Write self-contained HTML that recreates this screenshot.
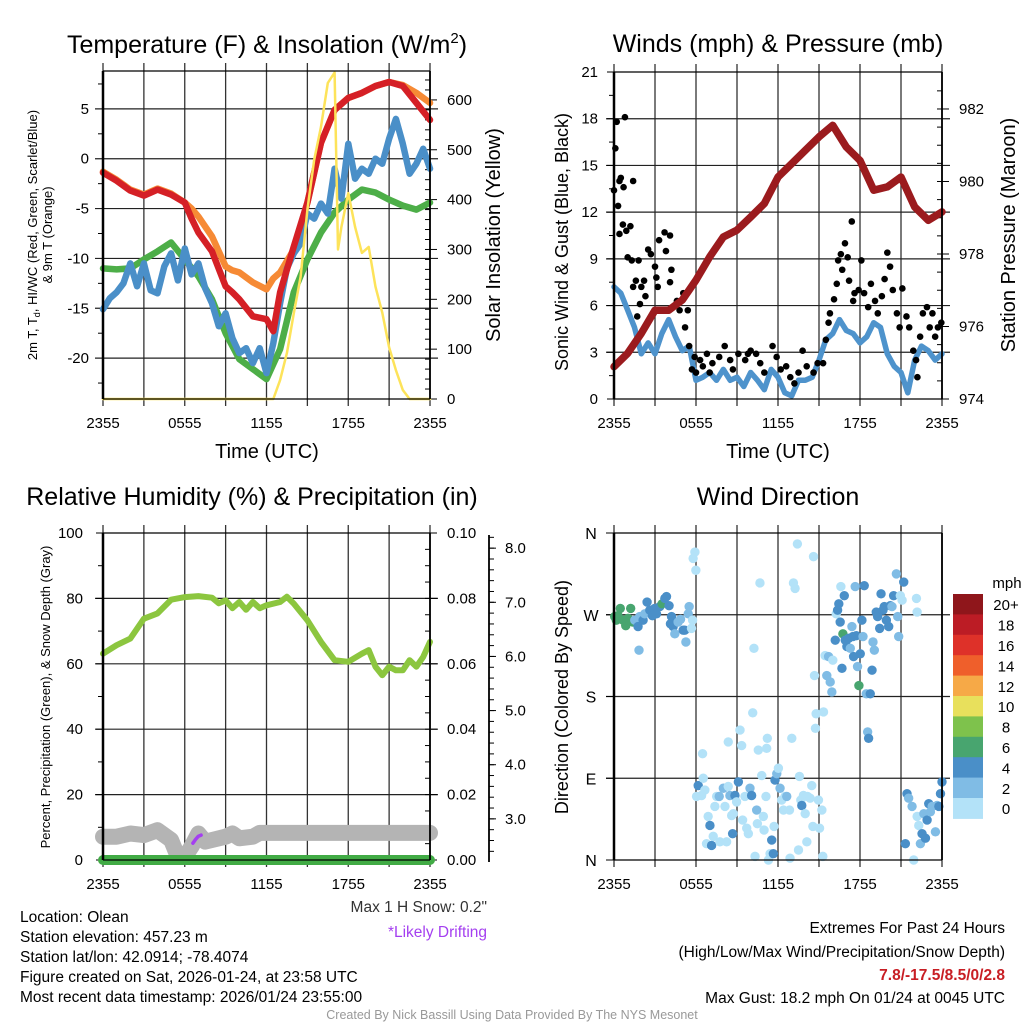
<!DOCTYPE html>
<html><head><meta charset="utf-8"><style>
html,body{margin:0;padding:0;background:#fff;}
svg{display:block;font-family:"Liberation Sans",Arial,sans-serif;}
</style></head><body>
<svg id="fig" width="1024" height="1024" viewBox="0 0 1024 1024" xmlns="http://www.w3.org/2000/svg"></svg>
<script>
// ---------- Panel 1 data: temperature (F) & insolation ----------
const tempHours=[0,1,2,3,4,5,6,6.5,7,8,9,9.5,10,11,12,12.5,13,14,15,16,17,18,19,20,21,22,23,24];
const temp2m=[-1.4,-2.2,-3.2,-3.7,-3.1,-3.6,-4.4,-6.0,-7.4,-9.3,-12.8,-13.4,-14.1,-15.8,-16.1,-17.3,-13.4,-8.8,-4.4,1.6,4.9,6.1,6.6,7.3,7.7,7.3,5.6,3.9];
const temp9m=[-1.3,-2.1,-3.1,-3.6,-3.0,-3.5,-4.4,-5.0,-5.8,-7.8,-10.8,-11.2,-11.4,-12.4,-13.1,-12.0,-11.4,-9.1,-4.4,1.6,4.9,6.1,6.6,7.3,7.7,7.4,6.6,5.6];
const dewHours=[0,1,2,3,4,5,6,7,8,9,10,11,12,13,14,15,16,17,18,19,20,21,22,23,24];
const dewPoint=[-11.0,-11.1,-11.0,-10.1,-9.3,-8.4,-10.1,-11.8,-14.1,-17.5,-20.1,-21.1,-22.1,-19.1,-13.4,-10.1,-7.4,-5.4,-4.1,-3.1,-3.4,-4.1,-4.7,-5.1,-4.4];
const wcHours=[0,0.5,1,1.5,2,2.5,3,3.5,4,4.5,5,5.5,6,6.5,7,7.5,8,8.5,9,9.5,10,10.5,11,11.5,12,12.5,13,13.5,14,14.5,15,15.5,16,16.5,17,17.5,18,18.5,19,19.5,20,20.5,21,21.5,22,22.5,23,23.5,24];
const windChill=[-15.1,-14.0,-13.4,-12.5,-10.5,-12.8,-10.5,-13.2,-13.5,-10.8,-9.5,-12.2,-9.0,-11.6,-10.5,-13.0,-14.5,-16.8,-15.5,-18.0,-19.5,-19.0,-20.5,-19.0,-21.5,-18.5,-14.5,-11.0,-9.5,-8.5,-5.5,-6.0,-4.5,-5.5,-1.0,-4.0,1.5,-2.0,-1.0,-1.5,0.0,-0.5,2.0,4.0,1.5,-1.5,-0.5,1.0,-1.0];
const solHours=[0,12.5,13,13.5,14,14.5,15,15.5,16,16.5,17,17.25,17.5,18,18.5,19,19.5,20,20.5,21,21.5,22,22.5,24];
const solar=[0,0,38,92,172,245,380,480,546,634,655,300,345,413,345,293,305,225,173,104,58,18,0,0];
const tempTicks=[-20,-15,-10,-5,0,5];
const solTicks=[0,100,200,300,400,500,600];
// ---------- Panel 2 data: winds & pressure ----------
const presHours=[0,1,2,3,4,5,6,7,8,9,10,11,12,13,14,15,16,17,18,19,20,21,22,23,24];
const pressure=[974.89,975.26,975.81,976.45,976.45,976.73,977.28,977.92,978.47,978.66,979.02,979.39,980.12,980.49,980.86,981.23,981.55,980.95,980.58,979.76,979.85,980.12,979.30,978.93,979.16];
const windHours=wcHours;
const windSpeed=[7.2,6.8,5.7,4.6,2.9,3.6,2.9,4.2,5.1,4.0,3.1,3.4,1.2,1.4,1.7,1.2,1.9,1.2,1.4,0.8,1.7,1.2,0.6,1.9,1.4,0.4,0.2,1.2,1.2,1.4,2.5,3.8,4.2,5.1,4.4,4.2,3.6,4.0,4.9,4.6,2.9,2.1,1.7,0.4,2.5,3.4,3.1,2.5,2.9];
const gustHours=[0,0.1,0.2,0.3,0.4,0.5,0.7,0.8,0.4,0.65,0.9,1.2,1.4,1.0,1.3,1.8,1.4,1.6,2.0,1.9,2.2,2.3,1.7,2.5,2.7,3.0,3.1,3.2,3.3,3.7,3.8,4.1,4.2,4.1,2.6,4.6,4.8,5.07,5.2,5.4,5.5,5.7,5.9,6.0,6.3,6.5,6.8,7.0,7.2,7.7,8.1,8.5,8.7,9.1,9.6,9.8,10.0,10.4,10.7,11.0,11.6,11.9,12.2,12.6,12.9,13.2,13.5,13.8,14.1,14.6,14.9,15.3,15.5,15.7,15.8,16.1,16.3,16.4,16.6,16.7,16.9,17.1,17.2,17.4,17.5,17.6,17.9,18.1,18.3,18.6,18.8,19.1,19.3,19.6,19.8,20.0,20.2,20.4,20.7,20.9,21.1,21.4,21.6,21.9,22.1,22.2,22.4,22.6,22.9,23.1,23.3,23.5,23.7,23.95];
const gustSpeed=[13.4,16.1,17.8,12.4,14.0,14.2,13.6,18.1,10.6,11.2,10.8,11.1,14.0,9.1,8.9,8.9,7.2,7.6,7.2,6.1,7.6,6.6,5.3,9.6,9.3,8.5,7.8,7.2,10.2,10.7,9.5,10.5,8.3,7.5,5.1,6.3,5.7,6.8,4.6,5.7,3.4,1.9,2.7,1.7,2.5,2.1,2.9,1.7,2.3,2.7,3.4,2.5,1.9,2.9,2.5,2.9,3.1,2.9,2.3,1.7,3.4,2.7,1.9,2.1,1.4,1.0,1.7,3.1,2.1,1.7,2.3,2.3,3.8,4.9,5.5,6.4,7.4,8.9,9.3,8.3,10.0,9.1,7.6,11.4,6.3,6.8,7.0,8.9,6.8,5.9,7.4,6.3,5.5,6.6,7.7,9.4,8.5,7.0,5.5,4.6,7.1,5.3,4.6,3.1,2.5,1.4,4.0,5.5,5.9,4.6,5.5,4.0,4.6,4.9];
const windTicks=[0,3,6,9,12,15,18,21];
const presTicks=[974,976,978,980,982];
// ---------- Panel 3 data: RH, precip, snow ----------
const rhHours=[0,1,2,3,4,5,6,7,8,8.5,9,9.5,10,10.5,11,11.5,12,13,13.5,14,15,16,17,18,19,19.5,20,20.5,21,21.5,22,22.5,23,23.5,24];
const rh=[63.1,65.7,67.7,73.8,75.4,79.6,80.4,80.7,80.2,78.5,79.4,77.0,78.9,76.5,78.9,77.0,77.9,78.9,80.5,78.4,73.3,66.7,61.1,60.6,63.1,64.2,59.1,56.5,59.1,58.0,58.0,61.1,59.1,62.1,66.7];
const precipHours=[0,24];
const precip=[0,0];
const snowHours=[0,1,2,3,4,5,5.5,6,6.5,7,7.5,8,9,9.5,10,11,11.5,12,24];
const snowDepth=[2.67,2.67,2.73,2.70,2.79,2.61,2.30,2.30,2.49,2.73,2.58,2.61,2.67,2.73,2.64,2.67,2.74,2.74,2.74];
const driftHours=[6.6,6.8,7.0,7.2];
const driftDepth=[2.55,2.62,2.68,2.70];
const rhTicks=[0,20,40,60,80,100];
const precipTicks=["0.00","0.02","0.04","0.06","0.08","0.10"];
const snowTicks=["3.0","4.0","5.0","6.0","7.0","8.0"];
// ---------- Panel 4 data: wind direction ----------
const dirHours=[0.05,0.17,0.29,0.46,0.66,0.86,1.03,1.22,1.39,1.52,1.76,1.88,2.13,2.25,2.42,2.62,2.81,2.98,3.11,3.35,3.52,3.72,3.84,4.03,4.21,4.13,4.33,4.45,4.69,4.87,5.06,5.18,5.26,5.43,5.50,5.67,5.75,1.83,5.79,5.92,5.99,
6.16,6.41,6.04,6.53,6.48,6.65,6.77,6.89,7.02,7.14,7.26,7.38,7.51,7.70,7.75,8.00,8.12,8.24,8.36,8.36,8.48,8.61,8.68,8.73,8.85,8.97,9.10,9.22,9.34,9.41,9.58,9.71,9.83,9.95,10.07,10.15,10.24,10.32,10.44,10.49,10.56,10.68,10.81,10.93,10.98,11.12,11.17,11.22,11.30,11.42,11.54,11.66,11.71,11.78,11.91,12.03,12.15,12.27,12.40,12.52,12.64,12.84,12.88,13.01,13.13,13.25,13.42,13.50,13.57,13.67,13.74,13.86,13.99,14.11,14.16,14.35,14.47,14.55,14.60,14.67,14.74,14.79,14.96,15.04,15.21,15.28,15.33,
15.45,15.57,15.70,15.82,15.94,16.01,16.19,16.26,16.36,16.45,16.55,16.60,16.68,16.75,16.85,16.92,17.04,17.16,17.29,17.41,17.48,17.53,17.65,17.73,17.82,17.92,18.02,18.14,18.22,18.31,18.46,18.56,18.63,18.75,18.88,18.95,19.05,19.19,19.29,19.44,19.54,19.68,19.78,19.93,20.10,20.22,20.34,20.46,20.66,20.76,20.83,20.95,21.08,21.20,22.13,22.18,
21.32,21.44,21.56,21.81,21.93,22.18,22.30,22.42,22.54,22.67,22.79,22.91,23.03,23.15,23.28,23.52,23.64,23.77,23.89,24.0];
const dirDegrees=[268,264,269,277,264,258,266,277,262,264,257,268,264,271,284,275,269,277,271,279,282,288,290,280,268,260,257,249,262,265,253,253,240,271,279,255,264,231,332,339,319,
82,71,70,90,117,77,18,48,38,16,26,59,70,70,20,79,59,20,130,81,71,49,29,51,71,64,86,143,126,44,70,35,29,79,71,162,233,4,55,40,121,305,93,48,33,70,123,134,0,7,22,7,37,88,95,101,79,66,55,70,70,55,2,134,305,299,348,11,92,66,60,71,51,20,70,68,82,37,334,203,145,161,66,35,55,4,163,
225,203,224,196,185,220,242,271,275,282,262,301,211,249,291,242,235,244,233,257,246,224,301,247,213,192,227,264,246,302,183,141,134,183,209,240,231,273,268,255,293,275,279,264,257,280,279,291,315,268,246,291,286,306,288,273,
18,73,68,59,0,48,38,18,29,51,24,44,62,53,59,31,60,59,73,86];
const dirSpeeds=[7,7,7,7,7,7,7,7,7,3,5,3,5,3,5,5,5,5,5,5,7,5,5,5,5,5,5,3,3,3,5,5,3,3,3,1,1,3,1,1,1,
5,1,1,1,1,1,1,1,5,5,1,1,1,3,1,3,1,1,1,1,3,1,5,1,5,1,5,1,1,1,1,1,1,3,5,1,1,1,3,1,1,1,1,1,1,1,1,1,1,1,5,5,1,5,3,1,3,1,1,1,3,1,1,1,1,1,1,1,1,1,5,1,1,1,1,1,1,1,1,1,1,1,1,1,1,1,1,
1,3,3,3,3,1,5,1,5,5,5,1,5,7,5,5,5,5,3,3,5,5,3,5,3,7,5,5,3,5,3,3,5,5,5,3,3,5,5,5,5,5,5,5,5,5,3,5,3,3,3,1,1,5,1,1,
5,5,3,3,1,1,1,3,5,3,5,5,5,3,3,3,3,5,5,5];
const speedBins=["0","2","4","6","8","10","12","14","16","18","20+"];
const binColors=["#b3e2f8","#80bce5","#4a8fc8","#48a56f","#7ec24c","#e8e05c","#f6a947","#ef5f2b","#de3129","#bc1c25","#8f161b"];
const dirTicks=["N","E","S","W","N"];
const hourTicks=[0,6,12,18,24];
const hourLabels=["2355","0555","1155","1755","2355"];

const NS="http://www.w3.org/2000/svg";
const svg=document.getElementById('fig');
function el(tag,attrs,parent,name,inter){
  const e=document.createElementNS(NS,tag);
  for(const k in attrs)e.setAttribute(k,attrs[k]);
  
  
  (parent||svg).appendChild(e);return e;
}
function txt(x,y,s,size,name,opts){
  opts=opts||{};
  const t=el('text',{x:x,y:y,'font-size':size,fill:opts.fill||'#000','text-anchor':opts.anchor||'middle','font-weight':opts.weight||'normal'},opts.parent,name,false);
  if(opts.rot)t.setAttribute('transform','rotate(-90 '+x+' '+y+')');
  t.textContent=s;return t;
}
function lin(d0,d1,r0,r1){return v=>r0+(v-d0)/(d1-d0)*(r1-r0);}
function pathFrom(xs,ys,fx,fy){return xs.map((h,i)=>(i?'L':'M')+fx(h).toFixed(1)+' '+fy(ys[i]).toFixed(1)).join(' ');}

function frame(P,name){
  const g=el('g',{},svg,name,false);
  const X=lin(0,24,P.x0,P.x1);
  for(let h=0;h<=24;h+=3){
    el('line',{x1:X(h),x2:X(h),y1:P.y0-8,y2:P.y1+7,stroke:'#333','stroke-width':1.3},g,'x-grid-line',false);
  }
  hourTicks.forEach((h,i)=>{txt(X(h),P.y1+29,hourLabels[i],15,'x-tick-label',{parent:g});});
  return {g:g,X:X};
}
function hgrid(P,g,yv,name){el('line',{x1:P.x0-8,x2:P.x1+8,y1:yv,y2:yv,stroke:'#222','stroke-width':1.2},g,name,false);}
function border(P,g){
  el('line',{x1:P.x0,x2:P.x0,y1:P.y0,y2:P.y1,stroke:'#000','stroke-width':2.5},g,'left-axis-line',false);
  el('line',{x1:P.x1,x2:P.x1,y1:P.y0,y2:P.y1,stroke:'#000','stroke-width':1.8},g,'right-axis-line',false);
  el('line',{x1:P.x0,x2:P.x1,y1:P.y0,y2:P.y0,stroke:'#000','stroke-width':1.3},g,'top-axis-line',false);
  el('line',{x1:P.x0,x2:P.x1,y1:P.y1,y2:P.y1,stroke:'#000','stroke-width':1.3},g,'bottom-axis-line',false);
}

// ===== Panel 1 =====
(function(){
  const P={x0:103,x1:430,y0:71,y1:399};
  const f=frame(P,'temperature-panel');const g=f.g,X=f.X;
  const Y=lin(-24.1,8.8,P.y1,P.y0), Ys=lin(0,658,P.y1,P.y0);
  tempTicks.forEach(v=>{hgrid(P,g,Y(v),'y-grid-line');txt(P.x0-14,Y(v)+5,String(v),15,'y-tick-label',{parent:g,anchor:'end'});});
  for(let v=-22.5;v<8.8;v+=5){el('line',{x1:P.x0-5,x2:P.x0,y1:Y(v),y2:Y(v),stroke:'#000'},g,'y-minor-tick',false);}
  for(let v=20;v<658;v+=20){el('line',{x1:P.x1-5,x2:P.x1,y1:Ys(v),y2:Ys(v),stroke:'#000'},g,'y2-minor-tick',false);}
  solTicks.forEach(v=>{el('line',{x1:P.x1,x2:P.x1+7,y1:Ys(v),y2:Ys(v),stroke:'#000'},g,'y2-tick',false);txt(P.x1+17,Ys(v)+5,String(v),15,'y2-tick-label',{parent:g,anchor:'start'});});
  const lw={fill:'none','stroke-linejoin':'round','stroke-linecap':'round'};
  el('path',Object.assign({d:pathFrom(tempHours,temp9m,X,Y),stroke:'#f68a35','stroke-width':6.5},lw),g,'9m-temperature-line',false);
  el('path',Object.assign({d:pathFrom(dewHours,dewPoint,X,Y),stroke:'#4dae48','stroke-width':6.5},lw),g,'dew-point-line',false);
  el('path',Object.assign({d:pathFrom(wcHours,windChill,X,Y),stroke:'#4a8fc8','stroke-width':6.5},lw),g,'wind-chill-line',false);
  el('path',Object.assign({d:pathFrom(tempHours,temp2m,X,Y),stroke:'#d52026','stroke-width':6.5},lw),g,'2m-temperature-line',false);
  el('path',Object.assign({d:pathFrom(solHours,solar,X,Ys),stroke:'#fde35a','stroke-width':2.5},lw),g,'solar-insolation-line',false);
  border(P,g);
  const t=txt(267,53,'Temperature (F) & Insolation (W/m',25,'chart-title',{parent:g});
  const sup=document.createElementNS(NS,'tspan');sup.setAttribute('dy','-10');sup.setAttribute('font-size','15');sup.textContent='2';t.appendChild(sup);
  const cl=document.createElementNS(NS,'tspan');cl.setAttribute('dy','10');cl.textContent=')';t.appendChild(cl);
  txt(267,458,'Time (UTC)',20,'x-axis-title',{parent:g});
  const yt=txt(37,235,'2m T, T',13,'y-axis-title',{parent:g,rot:true});
  const sb=document.createElementNS(NS,'tspan');sb.setAttribute('font-size','9');sb.setAttribute('dy','3');sb.textContent='d';yt.appendChild(sb);
  const rest=document.createElementNS(NS,'tspan');rest.setAttribute('dy','-3');rest.textContent=', HI/WC (Red, Green, Scarlet/Blue)';yt.appendChild(rest);
  txt(52,235,'& 9m T (Orange)',13,'y-axis-title-line2',{parent:g,rot:true});
  txt(500,235,'Solar Insolation (Yellow)',20,'y2-axis-title',{parent:g,rot:true});
})();

// ===== Panel 2 =====
(function(){
  const P={x0:614,x1:942,y0:72,y1:399};
  const f=frame(P,'winds-panel');const g=f.g,X=f.X;
  const Y=lin(0,21,P.y1,P.y0), Yp=lin(974,983.02,P.y1,P.y0);
  windTicks.forEach(v=>{if(v>0&&v<21)hgrid(P,g,Y(v),'y-grid-line');el('line',{x1:P.x0-7,x2:P.x0,y1:Y(v),y2:Y(v),stroke:'#000'},g,'y-tick',false);txt(P.x0-16,Y(v)+5,String(v),15,'y-tick-label',{parent:g,anchor:'end'});});
  for(let v=1.5;v<21;v+=3){el('line',{x1:P.x0-5,x2:P.x0,y1:Y(v),y2:Y(v),stroke:'#000'},g,'y-minor-tick',false);}
  for(let v=974.5;v<983;v+=0.5){el('line',{x1:P.x1-5,x2:P.x1,y1:Yp(v),y2:Yp(v),stroke:'#000'},g,'y2-minor-tick',false);}
  presTicks.forEach(v=>{el('line',{x1:P.x1,x2:P.x1+7,y1:Yp(v),y2:Yp(v),stroke:'#000'},g,'y2-tick',false);txt(P.x1+17,Yp(v)+5,String(v),15,'y2-tick-label',{parent:g,anchor:'start'});});
  const lw={fill:'none','stroke-linejoin':'round','stroke-linecap':'round'};
  el('path',Object.assign({d:pathFrom(windHours,windSpeed,X,Y),stroke:'#4e93cc','stroke-width':5.5},lw),g,'sonic-wind-line',false);
  gustHours.forEach((h,i)=>{
    const c=el('circle',{cx:X(h),cy:Y(gustSpeed[i]),r:3.3,fill:'#000'},g,'gust-dot',false);
  });
  el('path',Object.assign({d:pathFrom(presHours,pressure,X,Yp),stroke:'#9b1b1e','stroke-width':7.5},lw),g,'pressure-line',false);
  border(P,g);
  txt(778,52,'Winds (mph) & Pressure (mb)',25,'chart-title',{parent:g});
  txt(778,458,'Time (UTC)',20,'x-axis-title',{parent:g});
  txt(568,242,'Sonic Wind & Gust (Blue, Black)',18,'y-axis-title',{parent:g,rot:true});
  txt(1015,235,'Station Pressure (Maroon)',20,'y2-axis-title',{parent:g,rot:true});
})();

// ===== Panel 3 =====
(function(){
  const P={x0:103,x1:430,y0:533,y1:860};
  const f=frame(P,'humidity-panel');const g=f.g,X=f.X;
  const Y=lin(0,100,P.y1,P.y0), Yr=lin(0,0.1,P.y1,P.y0), Ysn=lin(2.24,8.28,P.y1,P.y0);
  rhTicks.forEach(v=>{if(v>0&&v<100)hgrid(P,g,Y(v),'y-grid-line');el('line',{x1:P.x0-7,x2:P.x0,y1:Y(v),y2:Y(v),stroke:'#000'},g,'y-tick',false);txt(P.x0-20,Y(v)+5,String(v),15,'y-tick-label',{parent:g,anchor:'end'});});
  for(let v=10;v<100;v+=20){el('line',{x1:P.x0-5,x2:P.x0,y1:Y(v),y2:Y(v),stroke:'#000'},g,'y-minor-tick',false);}
  for(let v=0.005;v<0.1;v+=0.005){el('line',{x1:P.x1-5,x2:P.x1,y1:Yr(v),y2:Yr(v),stroke:'#000'},g,'y2-minor-tick',false);}
  precipTicks.forEach(s=>{const v=parseFloat(s);el('line',{x1:P.x1,x2:P.x1+7,y1:Yr(v),y2:Yr(v),stroke:'#000'},g,'y2-tick',false);txt(P.x1+17,Yr(v)+5,s,15,'y2-tick-label',{parent:g,anchor:'start'});});
  el('line',{x1:489,x2:489,y1:P.y0+2,y2:P.y1+2,stroke:'#000','stroke-width':1.8},g,'snow-axis-line',false);
  for(let v=2.4;v<8.28;v+=0.2){el('line',{x1:489,x2:494,y1:Ysn(v),y2:Ysn(v),stroke:'#000'},g,'snow-minor-tick',false);}
  snowTicks.forEach(s=>{const v=parseFloat(s);el('line',{x1:489,x2:496,y1:Ysn(v),y2:Ysn(v),stroke:'#000'},g,'snow-tick',false);txt(505,Ysn(v)+5,s,15,'snow-tick-label',{parent:g,anchor:'start'});});
  const lw={fill:'none','stroke-linejoin':'round','stroke-linecap':'round'};
  el('path',Object.assign({d:pathFrom(snowHours,snowDepth,X,Ysn),stroke:'#b4b4b4','stroke-width':16},lw),g,'snow-depth-line',false);
  el('path',Object.assign({d:pathFrom(driftHours,driftDepth,X,Ysn),stroke:'#a43ff0','stroke-width':3.5},lw),g,'drifting-snow-line',false);
  el('path',Object.assign({d:pathFrom(precipHours,precip,X,Yr),stroke:'#41ab45','stroke-width':10},lw),g,'precipitation-line',false);
  el('path',Object.assign({d:pathFrom(rhHours,rh,X,Y),stroke:'#8cc63f','stroke-width':6},lw),g,'relative-humidity-line',false);
  border(P,g);
  txt(252,505,'Relative Humidity (%) & Precipitation (in)',25,'chart-title',{parent:g});
  txt(50,697,'Percent, Precipitation (Green), & Snow Depth (Gray)',13,'y-axis-title',{parent:g,rot:true});
  txt(487,912,'Max 1 H Snow: 0.2"',15.5,'max-snow-note',{parent:g,anchor:'end',fill:'#333'});
  txt(487,937,'*Likely Drifting',15.5,'drifting-note',{parent:g,anchor:'end',fill:'#a43ff0'});
})();

// ===== Panel 4 =====
(function(){
  const P={x0:614,x1:942,y0:533,y1:860};
  const f=frame(P,'wind-direction-panel');const g=f.g,X=f.X;
  const Y=lin(0,360,P.y1,P.y0);
  dirTicks.forEach((s,i)=>{const v=i*90;if(v>0&&v<360)hgrid(P,g,Y(v),'y-grid-line');el('line',{x1:P.x0-8,x2:P.x0,y1:Y(v),y2:Y(v),stroke:'#000'},g,'y-tick',false);txt(591,Y(v)+6,s,16,'y-tick-label',{parent:g});});
  function binOf(sp){return Math.min(10,Math.floor(sp/2));}
  dirHours.forEach((h,i)=>{
    const c=el('circle',{cx:X(h),cy:Y(dirDegrees[i]),r:4.7,fill:binColors[binOf(dirSpeeds[i])]},g,'direction-dot',false);
  });
  border(P,g);
  txt(778,505,'Wind Direction',25,'chart-title',{parent:g});
  txt(568,697,'Direction (Colored By Speed)',18,'y-axis-title',{parent:g,rot:true});
  const cb=el('g',{},g,'speed-colorbar',false);
  const top=594,bh=20.4;
  speedBins.forEach((s,i)=>{
    const k=10-i, yy=top+i*bh;
    el('rect',{x:953,y:yy,width:30,height:bh+0.5,fill:binColors[k]},cb,'colorbar-swatch',false);
  });
  speedBins.slice().reverse().forEach((s,i)=>{txt(1006,top+i*bh+bh/2+6,s,15,'colorbar-label',{parent:cb});});
  txt(1007,588,'mph',15,'colorbar-title',{parent:cb});
})();

// ===== Footer text =====
const info=["Location: Olean","Station elevation: 457.23 m","Station lat/lon: 42.0914; -78.4074","Figure created on Sat, 2026-01-24, at 23:58 UTC","Most recent data timestamp: 2026/01/24 23:55:00"];
info.forEach((s,i)=>{txt(20,922+i*20,s,15.5,'station-info-line',{anchor:'start'});});
txt(1005,933,'Extremes For Past 24 Hours',15.5,'extremes-title',{anchor:'end'});
txt(1005,957,'(High/Low/Max Wind/Precipitation/Snow Depth)',15.5,'extremes-subtitle',{anchor:'end'});
txt(1005,980,'7.8/-17.5/8.5/0/2.8',15.5,'extremes-values',{anchor:'end',fill:'#c81e24',weight:'bold'});
txt(1005,1003,'Max Gust: 18.2 mph On 01/24 at 0045 UTC',15.5,'max-gust-note',{anchor:'end'});
txt(512,1019,'Created By Nick Bassill Using Data Provided By The NYS Mesonet',12.5,'credit-line',{fill:'#999'});
</script>
</body></html>
